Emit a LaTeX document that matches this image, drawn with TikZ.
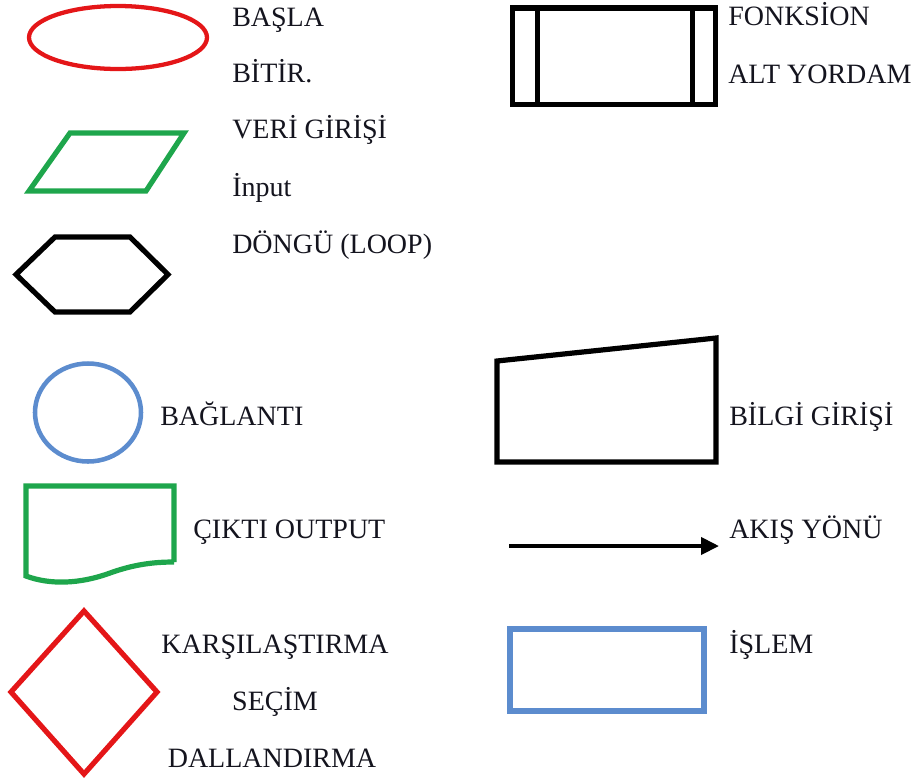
\documentclass[tikz,border=0pt]{standalone}
\usepackage{fontspec}
\setmainfont{Liberation Serif}
\usetikzlibrary{arrows.meta}
\definecolor{cred}{RGB}{228,22,24}
\definecolor{cgreen}{RGB}{30,166,76}
\definecolor{cblue}{RGB}{92,140,206}
\definecolor{ctext}{RGB}{20,20,30}
\tikzset{
  lbl/.style={anchor=base west,inner sep=0pt,font=\fontsize{21}{25}\selectfont,text=ctext},
  lblc/.style={anchor=base,inner sep=0pt,font=\fontsize{21}{25}\selectfont,text=ctext},
  shp/.style={line width=3.9pt,line join=miter},
}
\begin{document}
\begin{tikzpicture}[x=0.75pt,y=-0.75pt]
\useasboundingbox (0,0) rectangle (923,779);
% ellipse
\draw[shp,cred,line width=3.2pt] (118,37.5) ellipse [x radius=89, y radius=31.5];
\node[lbl] (basla) at (232,26) {BAŞLA};
\node[lbl] (bitir) at (232,82) {BİTİR.};
% parallelogram
\draw[shp,cgreen] (70,133) -- (184,133) -- (146,191) -- (29,191) -- cycle;
\node[lbl] (veri) at (232,138) {VERİ GİRİŞİ};
\node[lbl] (input) at (232,196) {İnput};
% hexagon
\draw[shp,black] (55,237) -- (130,237) -- (168,274.5) -- (130,312) -- (55,312) -- (16,274.5) -- cycle;
\node[lbl] (dongu) at (232,253) {DÖNGÜ (LOOP)};
% predefined process
\draw[shp,black] (512.5,8) rectangle (715.5,104.5);
\draw[shp,black] (537.5,8) -- (537.5,104.5);
\draw[shp,black] (692.5,8) -- (692.5,104.5);
\node[lbl] (fonk) at (728,25) {FONKSİON};
\node[lbl] (alt) at (728,83) {ALT YORDAM};
% circle
\draw[shp,cblue,line width=3.4pt] (88,412.5) ellipse [x radius=53, y radius=49];
\node[lbl] (bag) at (160,425) {BAĞLANTI};
% document
\draw[shp,cgreen] (174,562) -- (174,486) -- (26,486) -- (26,576)
  .. controls (50,585) and (80,584) .. (110,573)
  .. controls (135,564) and (155,562) .. (174,562);
\node[lbl] (cikti) at (193,538) {ÇIKTI OUTPUT};
% diamond
\draw[shp,cred] (84,611) -- (157,692) -- (84,774) -- (11,692) -- cycle;
\node[lblc] (kars) at (275,653) {KARŞILAŞTIRMA};
\node[lblc] (secim) at (275,710) {SEÇİM};
\node[lblc] (dall) at (272,767) {DALLANDIRMA};
% manual input
\draw[shp,black] (497,361) -- (716,338) -- (716,462) -- (497,462) -- cycle;
\node[lbl] (bilgi) at (729,425) {BİLGİ GİRİŞİ};
% arrow
\coordinate (a1) at (509,546);
\coordinate (a2) at (719,546);
\draw[line width=3pt,-{Triangle[length=13.5pt,width=12.75pt]}] (a1) -- (a2);
\node[lbl] (akis) at (729,538) {AKIŞ YÖNÜ};
% process
\draw[shp,cblue] (510,629) rectangle (704,711);
\node[lbl] (islem) at (729,653) {İŞLEM};
\end{tikzpicture}
\end{document}
